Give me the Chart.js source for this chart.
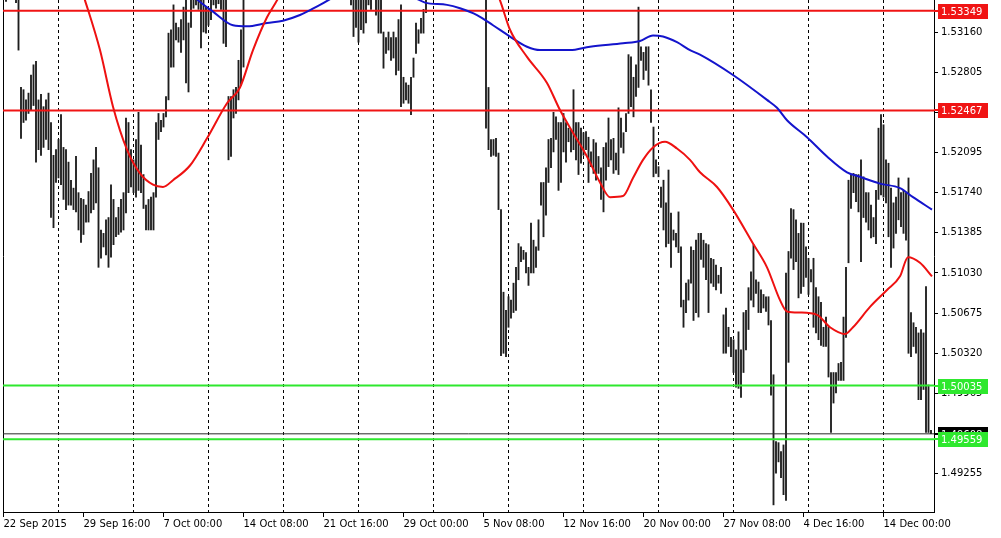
<!DOCTYPE html>
<html>
<head>
<meta charset="utf-8">
<script src="https://cdn.jsdelivr.net/npm/chart.js@4.4.1/dist/chart.umd.min.js"></script>
<style>
  html, body { margin: 0; padding: 0; background: #fff; }
  #wrap { width: 1001px; height: 538px; }
</style>
</head>
<body>
<div id="wrap"><canvas id="chart" width="1001" height="538"></canvas></div>
<script>
// H4 bars, one index per bar
const xLabels = [
    "22 Sep 2015", "29 Sep 16:00", "7 Oct 00:00", "14 Oct 08:00", "21 Oct 16:00", "29 Oct 00:00",
    "5 Nov 08:00", "12 Nov 16:00", "20 Nov 00:00", "27 Nov 08:00", "4 Dec 16:00", "14 Dec 00:00"
];
const xLabelBars = [0, 32, 64, 96, 128, 160, 192, 224, 256, 288, 320, 352];
const weekBars = [22, 52, 82, 112, 142, 172, 202, 232, 262, 292, 322, 352];
const priceTicks = [1.53160, 1.52805, 1.52450, 1.52095, 1.51740, 1.51385, 1.51030,
    1.50675, 1.50320, 1.49965, 1.49610, 1.49255];

const highs = [
    1.5362, 1.5353, 1.5358, 1.5362, 1.5355, 1.5351, 1.5349, 1.5267, 1.5265, 1.5256,
    1.5262, 1.5278, 1.5287, 1.5290, 1.5256, 1.5261, 1.5250, 1.5256, 1.5262, 1.5236,
    1.5207, 1.5212, 1.5221, 1.5243, 1.5214, 1.5212, 1.5201, 1.5185, 1.5178, 1.5206,
    1.5174, 1.5169, 1.5168, 1.5163, 1.5175, 1.5191, 1.5203, 1.5214, 1.5196, 1.5141,
    1.5138, 1.5150, 1.5152, 1.5181, 1.5168, 1.5152, 1.5161, 1.5168, 1.5174, 1.5240,
    1.5236, 1.5212, 1.5203, 1.5221, 1.5245, 1.5216, 1.5190, 1.5163, 1.5168, 1.5170,
    1.5174, 1.5236, 1.5244, 1.5238, 1.5244, 1.5259, 1.5315, 1.5318, 1.5340, 1.5324,
    1.5320, 1.5327, 1.5338, 1.5349, 1.5324, 1.5349, 1.5353, 1.5351, 1.5355, 1.5349,
    1.5346, 1.5338, 1.5336, 1.5349, 1.5358, 1.5353, 1.5355, 1.5351, 1.5349, 1.5347,
    1.5259, 1.5259, 1.5265, 1.5267, 1.5291, 1.5318, 1.5349, 1.5362, 1.5375, 1.5381,
    1.5390, 1.5388, 1.5372, 1.5369, 1.5380, 1.5395, 1.5402, 1.5398, 1.5385, 1.5377,
    1.5390, 1.5412, 1.5438, 1.5465, 1.5480, 1.5501, 1.5509, 1.5495, 1.5478, 1.5470,
    1.5489, 1.5482, 1.5466, 1.5459, 1.5470, 1.5462, 1.5448, 1.5440, 1.5452, 1.5436,
    1.5424, 1.5418, 1.5410, 1.5401, 1.5395, 1.5389, 1.5384, 1.5378, 1.5372, 1.5365,
    1.5362, 1.5358, 1.5360, 1.5355, 1.5357, 1.5360, 1.5368, 1.5365, 1.5370, 1.5366,
    1.5360, 1.5350, 1.5316, 1.5311, 1.5316, 1.5311, 1.5316, 1.5311, 1.5327, 1.5340,
    1.5276, 1.5271, 1.5269, 1.5276, 1.5293, 1.5324, 1.5318, 1.5328, 1.5336, 1.5349,
    1.5365, 1.5378, 1.5392, 1.5401, 1.5410, 1.5420, 1.5415, 1.5400, 1.5395, 1.5408,
    1.5422, 1.5435, 1.5428, 1.5412, 1.5405, 1.5418, 1.5430, 1.5422, 1.5411, 1.5402,
    1.5395, 1.5390, 1.5383, 1.5380, 1.5267, 1.5221, 1.5221, 1.5222, 1.5209, 1.5159,
    1.5086, 1.5070, 1.5082, 1.5079, 1.5094, 1.5108, 1.5129, 1.5126, 1.5123, 1.5121,
    1.5108, 1.5147, 1.5132, 1.5126, 1.5150, 1.5183, 1.5183, 1.5196, 1.5221, 1.5222,
    1.5245, 1.5241, 1.5236, 1.5236, 1.5244, 1.5236, 1.5231, 1.5229, 1.5265, 1.5236,
    1.5236, 1.5231, 1.5227, 1.5228, 1.5223, 1.5210, 1.5221, 1.5218, 1.5206, 1.5196,
    1.5214, 1.5218, 1.5240, 1.5221, 1.5222, 1.5209, 1.5249, 1.5240, 1.5227, 1.5244,
    1.5296, 1.5294, 1.5276, 1.5287, 1.5338, 1.5303, 1.5298, 1.5303, 1.5303, 1.5265,
    1.5232, 1.5203, 1.5197, 1.5179, 1.5185, 1.5165, 1.5194, 1.5156, 1.5141, 1.5138,
    1.5157, 1.5126, 1.5079, 1.5094, 1.5097, 1.5126, 1.5123, 1.5132, 1.5138, 1.5138,
    1.5132, 1.5129, 1.5128, 1.5116, 1.5115, 1.5110, 1.5101, 1.5108, 1.5066, 1.5072,
    1.5055, 1.5046, 1.5044, 1.5035, 1.5051, 1.5035, 1.5068, 1.5070, 1.5090, 1.5104,
    1.5128, 1.5097, 1.5095, 1.5088, 1.5084, 1.5082, 1.5082, 1.5061, 1.5013, 1.4954,
    1.4953, 1.4945, 1.4951, 1.5103, 1.5122, 1.5160, 1.5159, 1.5150, 1.5138, 1.5147,
    1.5147, 1.5126, 1.5116, 1.5106, 1.5116, 1.5090, 1.5082, 1.5077, 1.5055, 1.5064,
    1.5055, 1.5015, 1.5015, 1.5015, 1.5023, 1.5024, 1.5064, 1.5108, 1.5185, 1.5190,
    1.5191, 1.5190, 1.5190, 1.5203, 1.5188, 1.5174, 1.5174, 1.5163, 1.5152, 1.5176,
    1.5231, 1.5243, 1.5234, 1.5203, 1.5200, 1.5178, 1.5165, 1.5170, 1.5187, 1.5174,
    1.5176, 1.5174, 1.5187, 1.5068, 1.5059, 1.5055, 1.5050, 1.5053, 1.5050, 1.5091,
    1.5004, 1.4964
];
const lows = [
    1.5349, 1.5343, 1.5347, 1.5349, 1.5346, 1.5342, 1.5300, 1.5222, 1.5236, 1.5238,
    1.5244, 1.5247, 1.5251, 1.5201, 1.5212, 1.5207, 1.5214, 1.5221, 1.5212, 1.5152,
    1.5143, 1.5183, 1.5187, 1.5181, 1.5168, 1.5159, 1.5163, 1.5163, 1.5159, 1.5157,
    1.5141, 1.5130, 1.5137, 1.5148, 1.5148, 1.5156, 1.5159, 1.5165, 1.5108, 1.5116,
    1.5126, 1.5119, 1.5108, 1.5117, 1.5128, 1.5135, 1.5137, 1.5139, 1.5141, 1.5156,
    1.5174, 1.5179, 1.5174, 1.5170, 1.5176, 1.5174, 1.5160, 1.5141, 1.5141, 1.5141,
    1.5141, 1.5170, 1.5221, 1.5228, 1.5232, 1.5241, 1.5256, 1.5285, 1.5285, 1.5309,
    1.5307, 1.5298, 1.5309, 1.5271, 1.5263, 1.5320, 1.5337, 1.5340, 1.5336, 1.5302,
    1.5316, 1.5315, 1.5322, 1.5327, 1.5340, 1.5337, 1.5341, 1.5336, 1.5306, 1.5303,
    1.5203, 1.5206, 1.5240, 1.5244, 1.5256, 1.5269, 1.5285, 1.5346, 1.5352, 1.5360,
    1.5368, 1.5363, 1.5351, 1.5350, 1.5359, 1.5372, 1.5381, 1.5377, 1.5362, 1.5357,
    1.5368, 1.5385, 1.5406, 1.5430, 1.5452, 1.5470, 1.5482, 1.5468, 1.5451, 1.5443,
    1.5460, 1.5455, 1.5440, 1.5432, 1.5446, 1.5437, 1.5421, 1.5418, 1.5429, 1.5410,
    1.5401, 1.5395, 1.5386, 1.5378, 1.5371, 1.5366, 1.5360, 1.5357, 1.5351, 1.5340,
    1.5312, 1.5320, 1.5307, 1.5318, 1.5315, 1.5324, 1.5340, 1.5336, 1.5346, 1.5331,
    1.5315, 1.5315, 1.5284, 1.5297, 1.5300, 1.5291, 1.5293, 1.5278, 1.5282, 1.5250,
    1.5253, 1.5256, 1.5253, 1.5243, 1.5276, 1.5297, 1.5306, 1.5315, 1.5315, 1.5333,
    1.5347, 1.5355, 1.5366, 1.5380, 1.5387, 1.5395, 1.5392, 1.5378, 1.5372, 1.5385,
    1.5399, 1.5410, 1.5402, 1.5390, 1.5383, 1.5396, 1.5407, 1.5400, 1.5390, 1.5381,
    1.5374, 1.5369, 1.5360, 1.5231, 1.5212, 1.5206, 1.5207, 1.5206, 1.5159, 1.5030,
    1.5032, 1.5029, 1.5055, 1.5063, 1.5068, 1.5070, 1.5097, 1.5113, 1.5115, 1.5103,
    1.5092, 1.5103, 1.5103, 1.5108, 1.5123, 1.5163, 1.5135, 1.5154, 1.5183, 1.5196,
    1.5210, 1.5221, 1.5176, 1.5183, 1.5210, 1.5201, 1.5219, 1.5210, 1.5212, 1.5203,
    1.5190, 1.5200, 1.5207, 1.5212, 1.5183, 1.5197, 1.5191, 1.5185, 1.5191, 1.5168,
    1.5157, 1.5185, 1.5197, 1.5203, 1.5191, 1.5194, 1.5190, 1.5214, 1.5209, 1.5228,
    1.5244, 1.5250, 1.5241, 1.5259, 1.5267, 1.5291, 1.5274, 1.5282, 1.5269, 1.5236,
    1.5188, 1.5191, 1.5188, 1.5161, 1.5141, 1.5126, 1.5129, 1.5108, 1.5132, 1.5126,
    1.5121, 1.5073, 1.5055, 1.5068, 1.5079, 1.5094, 1.5061, 1.5068, 1.5064, 1.5115,
    1.5108, 1.5097, 1.5068, 1.5094, 1.5091, 1.5088, 1.5094, 1.5085, 1.5032, 1.5032,
    1.5038, 1.5029, 1.5015, 1.5002, 1.5001, 1.4993, 1.5015, 1.5035, 1.5053, 1.5079,
    1.5073, 1.5085, 1.5068, 1.5068, 1.5072, 1.5069, 1.5057, 1.4995, 1.4898, 1.4926,
    1.4936, 1.4922, 1.4907, 1.4902, 1.5024, 1.5116, 1.5106, 1.5113, 1.5081, 1.5085,
    1.5091, 1.5099, 1.5084, 1.5095, 1.5055, 1.5050, 1.5044, 1.5039, 1.5038, 1.5038,
    1.5011, 1.4962, 1.4988, 1.4997, 1.5008, 1.5008, 1.5008, 1.5046, 1.5112, 1.5160,
    1.5174, 1.5166, 1.5157, 1.5113, 1.5152, 1.5148, 1.5141, 1.5134, 1.5135, 1.5129,
    1.5168, 1.5172, 1.5170, 1.5165, 1.5135, 1.5108, 1.5125, 1.5138, 1.5150, 1.5144,
    1.5138, 1.5132, 1.5032, 1.5029, 1.5038, 1.5032, 1.4991, 1.4991, 1.5000, 1.4962,
    1.4962, 1.4961
];

// moving averages, read at bar positions
const redMaBars = [28, 32.6, 38.6, 43.8, 49.4, 54.6, 59.8, 63.8, 67.8, 74.6, 81.4, 89.4, 94.6, 99.8,
    105.4, 109.4, 114, 122, 135, 150, 165, 180, 190, 195, 198.6, 202.6, 209.4, 217.4, 222.6,
    227.8, 233.4, 238.6, 242.6, 247.8, 251.8, 255.8, 259.8, 264.6, 269.4, 274.6, 278.6, 285.4,
    291.8, 299.8, 305.4, 310.6, 313.4, 318.6, 325.4, 330.6, 336.6, 339.8, 346.6, 353.4, 358.6,
    361.8, 366.6, 371.4];
const redMaValues = [1.5375, 1.5344, 1.5300, 1.5250, 1.5212, 1.5191, 1.5181, 1.5179, 1.5185, 1.5198,
    1.5222, 1.5253, 1.5267, 1.5300, 1.5329, 1.5344, 1.5365, 1.5405, 1.5440, 1.5452, 1.5440,
    1.5415, 1.5385, 1.5362, 1.5344, 1.5318, 1.5294, 1.5271, 1.5247, 1.5227, 1.5206, 1.5183,
    1.5170, 1.5171, 1.5187, 1.5203, 1.5214, 1.5219, 1.5213, 1.5203, 1.5192, 1.5179, 1.5159,
    1.5129, 1.5108, 1.5079, 1.5069, 1.5068, 1.5066, 1.5055, 1.5049, 1.5055, 1.5073, 1.5088,
    1.5100, 1.5117, 1.5112, 1.5100];
const blueMaBars = [72, 77.8, 83.8, 91.8, 97.4, 105.4, 111.8, 118.6, 126.6, 134.6, 150.6, 164.6,
    168.6, 177.4, 182.6, 189.4, 195.8, 202.6, 209.4, 214.6, 226.6, 234.6, 247.8, 254.6, 259.8,
    263.8, 269.4, 274.6, 278.6, 291.8, 305.4, 309.4, 313.4, 321.4, 329.4, 337.4, 342.6, 350.6,
    358.6, 363.8, 371.4];
const blueMaValues = [1.5356, 1.5344, 1.5334, 1.5322, 1.5321, 1.5324, 1.5326, 1.5331, 1.5340, 1.5349,
    1.5352, 1.5346, 1.5342, 1.5340, 1.5337, 1.5331, 1.5322, 1.5312, 1.5303, 1.5300, 1.5300,
    1.5303, 1.5306, 1.5308, 1.5313, 1.5312, 1.5307, 1.5300, 1.5296, 1.5278, 1.5256, 1.5249,
    1.5238, 1.5223, 1.5206, 1.5192, 1.5188, 1.5182, 1.5178, 1.5170, 1.5159];

const redLevels = [1.53349, 1.52467];
const greenLevels = [1.50035, 1.49559];
const bidLevel = 1.49608;

const X_MIN = -0.2, X_MAX = 372.2;
const Y_MIN = 1.48917, Y_MAX = 1.53443;
const RED = "#f01414";
const GREEN = "#2ee82e";
const FONT = { family: "DejaVu Sans", size: 10 };

function levelLine(level, color, width) {
    return {
        type: "line",
        data: [{ x: X_MIN, y: level }, { x: X_MAX, y: level }],
        borderColor: color,
        borderWidth: width,
        pointRadius: 0,
        order: 5
    };
}

function maLine(bars, values, color) {
    return {
        type: "line",
        data: bars.map((b, i) => ({ x: b, y: values[i] })),
        borderColor: color,
        borderWidth: 2,
        pointRadius: 0,
        cubicInterpolationMode: "monotone",
        order: 1
    };
}

// no extra padding from labels, plot area fills the canvas
function noPadding(s) {
    s.paddingTop = 0;
    s.paddingBottom = 0;
    s.paddingLeft = 0;
    s.paddingRight = 0;
}

// price boxes on the right axis
const levelLabels = {
    id: "levelLabels",
    afterDraw(chart) {
        const ctx = chart.ctx;
        const yScale = chart.scales.y;
        const right = chart.chartArea.right;
        const items = [{ v: bidLevel, bg: "#000000" }]
            .concat(greenLevels.map(v => ({ v, bg: GREEN })))
            .concat(redLevels.map(v => ({ v, bg: RED })));
        ctx.save();
        ctx.font = '10px "DejaVu Sans"';
        ctx.textBaseline = "middle";
        items.forEach(it => {
            const py = Math.round(yScale.getPixelForValue(it.v));
            ctx.fillStyle = it.bg;
            ctx.fillRect(right, py - 1, 5, 2);
            ctx.fillRect(right + 4, py - 7, 50, 15);
            ctx.fillStyle = "#ffffff";
            ctx.fillText(it.v.toFixed(5), right + 7, py + 1);
        });
        ctx.restore();
    }
};

const datasets = [
    {
        type: "bar",
        data: highs.map((h, i) => ({ x: i, y: [lows[i], h] })),
        backgroundColor: "#1e1e1e",
        borderWidth: 0,
        barThickness: 1.2,
        order: 10
    },
    levelLine(bidLevel, "#2a2a2a", 1),
    ...redLevels.map(v => levelLine(v, RED, 2)),
    ...greenLevels.map(v => levelLine(v, GREEN, 2)),
    maLine(redMaBars, redMaValues, "#ee1111"),
    maLine(blueMaBars, blueMaValues, "#1414cc")
];

new Chart(document.getElementById("chart").getContext("2d"), {
    type: "bar",
    data: { datasets },
    options: {
        responsive: false,
        animation: false,
        devicePixelRatio: 1,
        events: [],
        layout: { padding: 0, autoPadding: false },
        plugins: { legend: { display: false }, tooltip: { enabled: false } },
        scales: {
            x: {
                type: "linear", position: "bottom", min: X_MIN, max: X_MAX, offset: false,
                afterBuildTicks: s => { s.ticks = xLabelBars.map(v => ({ value: v })); },
                afterFit: s => { s.height = 26; noPadding(s); },
                grid: { drawOnChartArea: false, drawTicks: true, tickLength: 5, tickColor: "#000", offset: false },
                border: { color: "#000" },
                ticks: {
                    autoSkip: false, maxRotation: 0, minRotation: 0, align: "start",
                    padding: 1, color: "#000", font: FONT,
                    callback: (v, i) => xLabels[i]
                }
            },
            xWeeks: {
                type: "linear", position: "top", min: X_MIN, max: X_MAX, offset: false,
                afterBuildTicks: s => { s.ticks = weekBars.map(v => ({ value: v })); },
                afterFit: s => { s.height = 0; noPadding(s); },
                grid: { color: "#000", lineWidth: 1, drawTicks: false, offset: false },
                border: { display: false, dash: [3, 3] },
                ticks: { display: false }
            },
            y: {
                type: "linear", position: "right", min: Y_MIN, max: Y_MAX,
                afterBuildTicks: s => { s.ticks = priceTicks.map(v => ({ value: v })); },
                afterFit: s => { s.width = 67; noPadding(s); },
                grid: { drawOnChartArea: false, drawTicks: true, tickLength: 4, tickColor: "#000" },
                border: { color: "#000" },
                ticks: { padding: 3, color: "#000", font: FONT, callback: v => v.toFixed(5) }
            },
            yEdge: {
                type: "linear", position: "left",
                afterFit: s => { s.width = 3; noPadding(s); },
                grid: { drawOnChartArea: false, drawTicks: false },
                border: { color: "#000" },
                ticks: { display: false }
            }
        }
    },
    plugins: [levelLabels]
});
</script>
</body>
</html>
